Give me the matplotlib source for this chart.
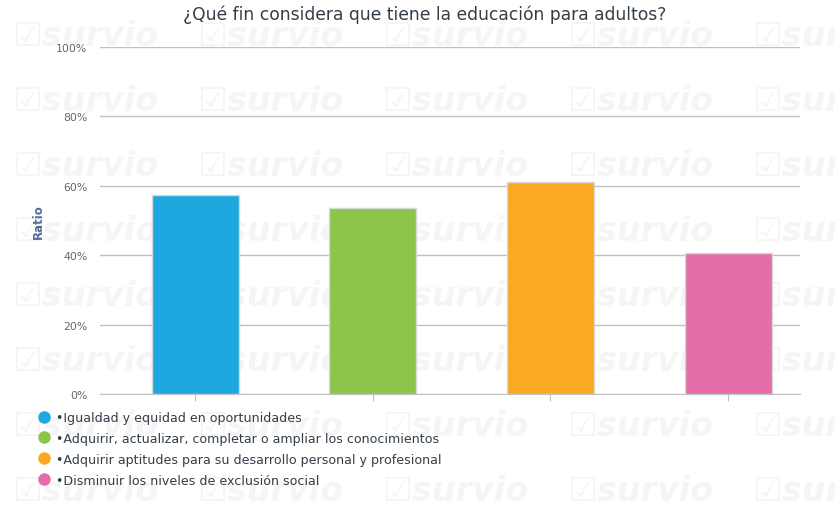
import matplotlib
matplotlib.use("Agg")
import matplotlib.pyplot as plt
from matplotlib.lines import Line2D

categories = [
    "•Igualdad y equidad en oportunidades",
    "•Adquirir, actualizar, completar o ampliar los conocimientos",
    "•Adquirir aptitudes para su desarrollo personal y profesional",
    "•Disminuir los niveles de exclusión social",
]
values = [57.4, 53.7, 61.2, 40.7]
colors = ["#1fa8e0", "#8bc54a", "#fba922", "#e56ea9"]
yticks = [0, 20, 40, 60, 80, 100]
ytick_labels = ["0%", "20%", "40%", "60%", "80%", "100%"]
title = "¿Qué fin considera que tiene la educación para adultos?"
watermark = "☑survio"

plt.rcParams["font.family"] = ["DejaVu Sans"]
fig = plt.figure(figsize=(8.35, 5.1), dpi=100)
W, H = 835, 510

# background watermark layer (behind everything)
bg = fig.add_axes([0, 0, 1, 1], zorder=-10)
bg.set_xlim(0, W)
bg.set_ylim(H, 0)
bg.axis("off")
for ry in range(8):
    for cx in range(5):
        bg.text(12 + cx * 185, 36 + ry * 65, watermark, fontsize=24, fontweight="bold",
                style="italic", color="#f5f5f5", va="center", ha="left", clip_on=True)

ax = fig.add_axes([100 / W, 1 - 395 / H, 700 / W, (395 - 48) / H], zorder=1)
ax.patch.set_alpha(0)
x = list(range(len(values)))
ax.bar(x, values, width=0.49, color=colors, edgecolor="#d8d8d8", linewidth=1, zorder=3)
ax.set_xlim(-0.535, 3.405)
ax.set_ylim(0, 100)
ax.set_yticks(yticks)
ax.set_yticklabels(ytick_labels, fontsize=7.8, color="#666666")
ax.yaxis.grid(True, color="#c0c0c0", linewidth=1, zorder=0)
ax.tick_params(axis="y", length=0, pad=9)
ax.set_xticks(x)
ax.set_xticklabels([])
ax.tick_params(axis="x", length=5, color="#c0c0c0", direction="out")
for s in ["top", "right", "left"]:
    ax.spines[s].set_visible(False)
ax.spines["bottom"].set_color("#c0c0c0")
ax.set_ylabel("Ratio", fontsize=8.5, fontweight="bold", color="#4d6d9a", labelpad=8)

fig.text(425 / W, 1 - 15 / H, title, fontsize=12.3, color="#333e48", ha="center", va="center")

handles = [Line2D([0], [0], marker="o", linestyle="none", markersize=8,
                  markerfacecolor=c, markeredgecolor=c) for c in colors]
leg = fig.legend(handles, categories, loc="upper left", bbox_to_anchor=(38 / W, 1 - 412 / H),
                 frameon=False, fontsize=9.1, handletextpad=0.55, labelspacing=0.62,
                 handlelength=0.9, borderaxespad=0, borderpad=0)
for t in leg.get_texts():
    t.set_color("#333e48")

fig.savefig("out.png", dpi=100)
